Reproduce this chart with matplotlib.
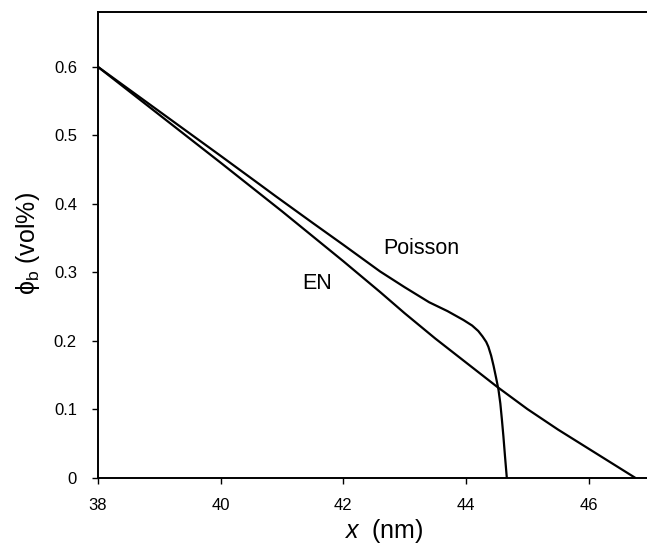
import matplotlib
matplotlib.use("Agg")
import matplotlib.pyplot as plt

# EN curve
en_x = [38.0, 39.0, 40.0, 41.0, 42.0, 42.6, 43.0, 43.5, 44.0, 44.5, 45.0, 45.5, 46.0, 46.5, 46.75]
en_y = [0.600, 0.530, 0.460, 0.389, 0.316, 0.271, 0.240, 0.203, 0.168, 0.133, 0.100, 0.070, 0.042, 0.014, 0.0]

# Poisson curve
po_x = [38.0, 39.0, 40.0, 40.64, 40.89, 41.5, 42.0, 42.6, 43.0, 43.4, 43.7, 43.96, 44.1,
        44.2, 44.27, 44.33, 44.365, 44.41, 44.45, 44.49, 44.53, 44.56, 44.585, 44.61, 44.635, 44.665]
po_y = [0.600, 0.535, 0.470, 0.428, 0.4115, 0.372, 0.340, 0.301, 0.278, 0.256, 0.243, 0.230, 0.222,
        0.214, 0.206, 0.198, 0.191, 0.178, 0.163, 0.146, 0.128, 0.108, 0.085, 0.060, 0.032, 0.0]

xticks = [38, 40, 42, 44, 46]
yticks = [0, 0.1, 0.2, 0.3, 0.4, 0.5, 0.6]
ytick_labels = ["0", "0.1", "0.2", "0.3", "0.4", "0.5", "0.6"]

plt.rcParams['font.family'] = ['Liberation Sans', 'DejaVu Sans']
plt.rcParams['mathtext.fontset'] = 'custom'
plt.rcParams['mathtext.rm'] = 'Liberation Sans'
plt.rcParams['mathtext.it'] = 'Liberation Sans:italic'

fig = plt.figure(figsize=(6.47, 5.44), dpi=100)
ax = fig.add_axes([97.8 / 647, 66.5 / 544, (647 - 97.8) / 647, 465.5 / 544])

ax.plot(en_x, en_y, color='black', lw=1.6)
ax.plot(po_x, po_y, color='black', lw=1.6)

ax.set_xlim(38, 46.95)
ax.set_ylim(0, 0.68)
ax.set_xticks(xticks)
ax.set_xticklabels([str(t) for t in xticks])
ax.set_yticks(yticks)
ax.set_yticklabels(ytick_labels)
ax.tick_params(direction='out', length=4, width=1, labelsize=12, pad=11)

for s in ['left', 'bottom', 'top']:
    ax.spines[s].set_linewidth(1.4)
ax.spines['right'].set_visible(False)

ax.text(43.27, 0.335, "Poisson", fontsize=15.5, ha='center', va='center')
ax.text(41.58, 0.283, "EN", fontsize=15.5, ha='center', va='center')

ax.set_xlabel(r"$\mathit{x}$  (nm)", fontsize=18)
ax.xaxis.set_label_coords((384 - 97.8) / (647 - 97.8), -(531 - 477.5) / 465.5)
ax.set_ylabel(r"ϕ$_\mathregular{b}$ (vol%)", fontsize=18)
ax.yaxis.set_label_coords(-(97.8 - 27.5) / (647 - 97.8), (477.5 - 243) / 465.5)
ax.xaxis.label.set_va('center')
ax.yaxis.label.set_va('center')

fig.savefig("out.png", dpi=100)
